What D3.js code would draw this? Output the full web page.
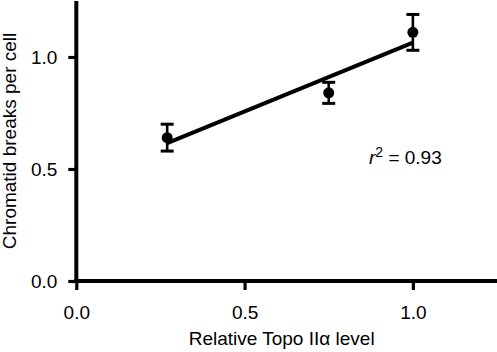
<!DOCTYPE html>
<html>
<head>
<meta charset="utf-8">
<script src="https://cdnjs.cloudflare.com/ajax/libs/d3/7.8.5/d3.min.js"></script>
<style>
  body { margin: 0; background: #fff; }
  svg { display: block; font-family: "Liberation Sans", Arial, Helvetica, sans-serif; }
</style>
</head>
<body>
<div id="graph"></div>
<script>
// data
const topoLevel = [0.27, 0.75, 1.0];      // relative Topo IIa level
const breaks    = [0.64, 0.84, 1.11];     // chromatid breaks per cell
const breaksErr = [0.06, 0.047, 0.08];    // error bar half-height
const xTicks = [0, 0.5, 1.0];
const yTicks = [0, 0.5, 1.0];
const rSquared = "0.93";

// simple least squares fit for the line
function fit(xs, ys) {
	var mx = d3.mean(xs), my = d3.mean(ys);
	var sxy = 0, sxx = 0;
	for (var i = 0; i < xs.length; i++) {
		sxy += (xs[i] - mx) * (ys[i] - my);
		sxx += (xs[i] - mx) * (xs[i] - mx);
	}
	var slope = sxy / sxx;
	return { slope: slope, intercept: my - slope * mx };
}

var margin = {top: 1, right: 0, bottom: 71, left: 76.3},
	width = 497 - margin.left - margin.right,
	height = 352 - margin.top - margin.bottom;

var svg = d3.select("#graph")
	.append("svg")
		.attr("width", 497)
		.attr("height", 352)
	.append("g")
		.attr("transform", "translate(" + margin.left + "," + margin.top + ")");

var x = d3.scaleLinear().domain([0, 1.25]).range([0, width]);
var y = d3.scaleLinear().domain([0, 1.25]).range([height, 0]);

// X axis
var xAxis = svg.append("g")
	.attr("transform", "translate(0," + height + ")")
	.call(d3.axisBottom(x).tickValues(xTicks).tickFormat(d3.format(".1f")).tickSize(9).tickSizeOuter(0));

// Y axis
var yAxis = svg.append("g")
	.call(d3.axisLeft(y).tickValues(yTicks).tickFormat(d3.format(".1f")).tickSize(8).tickSizeOuter(0));

[xAxis, yAxis].forEach(function(ax) {
	ax.attr("font-size", 19).attr("font-family", "'Liberation Sans', Arial, sans-serif");
	ax.select(".domain").attr("stroke", "#000").attr("stroke-width", 4);
	ax.selectAll(".tick line").attr("stroke", "#000").attr("stroke-width", 3.2);
	ax.selectAll(".tick text").attr("fill", "#000");
});
xAxis.select(".domain").attr("d", "M-2,0H" + width);
yAxis.select(".domain").attr("d", "M0,0V" + (height + 2));
xAxis.selectAll(".tick text").attr("y", 38).attr("dy", 0);
yAxis.selectAll(".tick text").attr("x", -19).attr("dy", "0.36em");

// axis titles
svg.append("text")
	.attr("x", width / 2 - 5)
	.attr("y", height + 64)
	.attr("text-anchor", "middle")
	.style("font-size", "19px")
	.text("Relative Topo II\u03b1 level");

svg.append("text")
	.attr("transform", "translate(" + (16 - margin.left) + "," + (height / 2) + ") rotate(-90)")
	.attr("text-anchor", "middle")
	.style("font-size", "19px")
	.text("Chromatid breaks per cell");

// regression line
var lm = fit(topoLevel, breaks);
var xr = d3.extent(topoLevel);
svg.append("line")
	.attr("x1", x(xr[0]))
	.attr("y1", y(lm.intercept + lm.slope * xr[0]))
	.attr("x2", x(xr[1]))
	.attr("y2", y(lm.intercept + lm.slope * xr[1]))
	.attr("stroke", "#000")
	.attr("stroke-width", 4);

var data = topoLevel.map(function(d, i) { return {x: d, y: breaks[i], e: breaksErr[i]}; });

// error bars
var eb = svg.selectAll(".err")
	.data(data)
	.enter().append("g")
	.attr("class", "err")
	.attr("stroke", "#000")
	.attr("stroke-width", 2.6);
eb.append("line")
	.attr("x1", function(d) { return x(d.x); })
	.attr("x2", function(d) { return x(d.x); })
	.attr("y1", function(d) { return y(d.y - d.e); })
	.attr("y2", function(d) { return y(d.y + d.e); });
eb.append("line")
	.attr("x1", function(d) { return x(d.x) - 6.5; })
	.attr("x2", function(d) { return x(d.x) + 6.5; })
	.attr("y1", function(d) { return y(d.y + d.e); })
	.attr("y2", function(d) { return y(d.y + d.e); })
	.attr("stroke-width", 3);
eb.append("line")
	.attr("x1", function(d) { return x(d.x) - 6.5; })
	.attr("x2", function(d) { return x(d.x) + 6.5; })
	.attr("y1", function(d) { return y(d.y - d.e); })
	.attr("y2", function(d) { return y(d.y - d.e); })
	.attr("stroke-width", 3);

// points
svg.selectAll(".pt")
	.data(data)
	.enter().append("circle")
	.attr("class", "pt")
	.attr("cx", function(d) { return x(d.x); })
	.attr("cy", function(d) { return y(d.y); })
	.attr("r", 5.5)
	.attr("fill", "#000");

// r squared label
var r2 = svg.append("text")
	.attr("x", 369 - margin.left)
	.attr("y", 164 - margin.top)
	.style("font-size", "19px");
r2.append("tspan").style("font-style", "italic").text("r");
r2.append("tspan").attr("dy", -7).style("font-size", "14px").text("2");
r2.append("tspan").attr("dy", 7).text(" = " + rSquared);
</script>
</body>
</html>
